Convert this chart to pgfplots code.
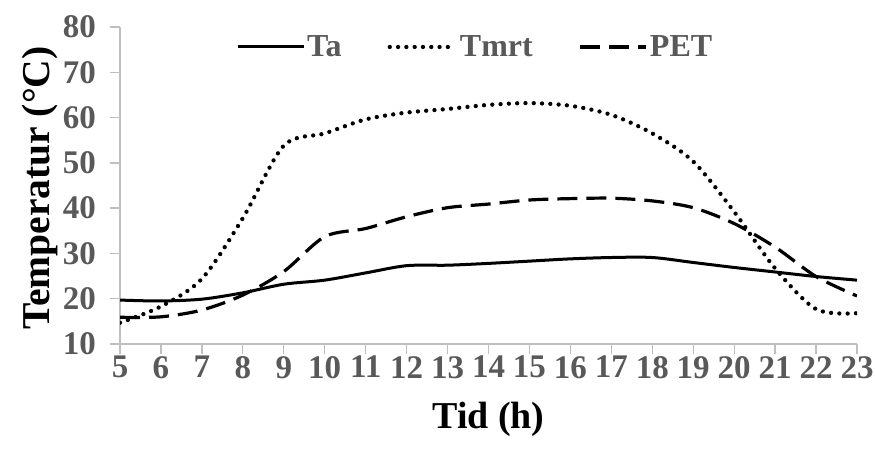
\documentclass[border=0pt]{standalone}
\usepackage{fontspec}
\setmainfont{Liberation Serif}
\usepackage{pgfplots}
\pgfplotsset{compat=1.18}
\definecolor{axgray}{HTML}{BFBFBF}
\definecolor{txtgray}{HTML}{595959}
\begin{document}
\begin{tikzpicture}
\path[use as bounding box] (0pt,0pt) rectangle (875pt,450pt);
\begin{axis}[
 at={(120pt,106pt)}, anchor=south west,
 scale only axis, width=737pt, height=317pt,
 xmin=5, xmax=23, ymin=10, ymax=80,
 xtick={5,6,...,23}, ytick={10,20,...,80},
 axis x line*=bottom, axis y line*=left,
 x axis line style={-}, y axis line style={-},
 axis line style={draw=axgray, line width=1.3pt},
 xtick align=outside, ytick align=outside, major tick length=10pt,
 xtick style={draw=axgray, line width=1.3pt},
 ytick style={draw=axgray, line width=1.3pt},
 ticklabel style={font=\fontsize{33}{36}\selectfont\bfseries, text=txtgray},
 /pgf/number format/assume math mode=true,
 xticklabel style={inner sep=2pt},
 yticklabel style={inner sep=2pt, xshift=-12pt},
 xlabel={Tid (h)}, ylabel={Temperatur (°C)},
 xlabel style={font=\fontsize{38}{40}\selectfont\bfseries, at={(axis description cs:0.5,0)}, anchor=base, yshift=-84pt},
 ylabel style={font=\fontsize{39.5}{41}\selectfont\bfseries, at={([xshift=-71pt,yshift=-2.5pt]axis description cs:0,0.5)}, anchor=base},
 legend columns=3,
 legend style={draw=none, fill=none, at={(axis description cs:0.482,0.937)}, anchor=center,
   font=\fontsize{32}{34}\selectfont\bfseries, text=txtgray,
   /tikz/every odd column/.append style={column sep=0pt},
   /tikz/every even column/.append style={column sep=44pt},
   nodes={inner sep=2pt}},
 legend image code/.code={\draw[#1] (0pt,0pt) -- (66pt,0pt);},
]
\addplot[black, line width=3pt, smooth] coordinates {
(5,19.7) (6,19.5) (7,19.9) (8,21.3) (9,23.2) (10,24.1) (11,25.7) (12,27.3) (13,27.4) (14,27.8)
(15,28.3) (16,28.8) (17,29.1) (18,29.1) (19,28.0) (20,26.9) (21,25.9) (22,24.9) (23,24.1)};
\addlegendentry{Ta}
\addplot[black, line width=4.3pt, line cap=round, dash pattern=on 0pt off 8.3pt, smooth] coordinates {
(5,14.7) (6,18.3) (7,24.4) (8,37.8) (9,53.8) (10,56.5) (11,59.6) (12,61.1) (13,61.9) (14,62.8)
(15,63.2) (16,62.6) (17,60.6) (18,56.5) (19,50.3) (20,39.2) (21,26.7) (22,17.7) (23,16.8)};
\addlegendentry{Tmrt}
\addplot[black, line width=3.2pt, dash pattern=on 20pt off 9pt, smooth] coordinates {
(5,15.9) (6,16.0) (7,17.5) (8,20.8) (9,26.0) (10,33.7) (11,35.5) (12,38.1) (13,40.1) (14,40.9)
(15,41.8) (16,42.1) (17,42.2) (18,41.6) (19,40.1) (20,36.6) (21,31.4) (22,24.9) (23,20.6)};
\addlegendentry{PET}
\end{axis}
\end{tikzpicture}
\end{document}
